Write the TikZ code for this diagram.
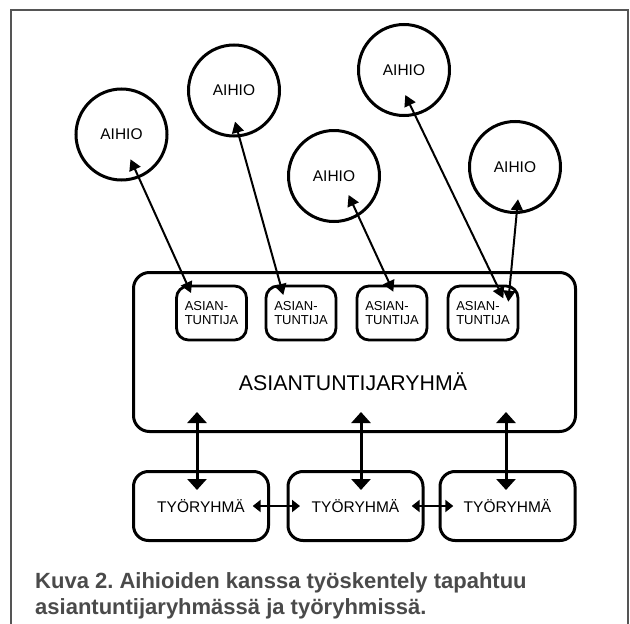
\documentclass[tikz,border=0pt]{standalone}
\usepackage{fontspec}
\setmainfont{Liberation Sans}
\usetikzlibrary{arrows.meta}
\definecolor{framegray}{HTML}{555555}
\definecolor{captiongray}{HTML}{4A4A4A}
\frenchspacing
\begin{document}
\begin{tikzpicture}[x=1pt,y=-1pt,
  aihio/.style={circle,draw,line width=3pt,minimum size=91pt,inner sep=0pt,
    font=\fontsize{15.5}{18}\selectfont},
  expert/.style={draw,line width=2.8pt,rounded corners=12pt,minimum width=70pt,
    minimum height=54pt,inner sep=0pt,align=left,
    font=\fontsize{13}{14.7}\selectfont},
  group/.style={draw,line width=3pt,rounded corners=16pt,minimum width=442pt,
    minimum height=159pt,inner sep=0pt},
  team/.style={draw,line width=3pt,rounded corners=15pt,minimum width=135pt,
    minimum height=69pt,inner sep=0pt,font=\fontsize{15.5}{18}\selectfont},
  captionline/.style={anchor=base west,inner sep=0pt,text=captiongray,
    font=\fontsize{22}{26}\selectfont\bfseries},
  linkarrow/.style={line width=2pt,{Triangle[length=11pt,width=12pt]}-{Triangle[length=11pt,width=12pt]}},
  tiearrow/.style={line width=3pt,{Triangle[length=11pt,width=19pt]}-{Triangle[length=11pt,width=19pt]}},
  siblingarrow/.style={line width=2.4pt,{Triangle[length=8pt,width=12pt]}-{Triangle[length=8pt,width=12pt]}}]
\useasboundingbox (0,0) rectangle (630,624);

% open frame around figure and caption
\draw[framegray,line width=2pt] (11,640) -- (11,10) -- (628,10) -- (628,640);

% source circles
\node[aihio] (c1) at (121.5,134.5) {AIHIO};
\node[aihio] (c2) at (234,90.5) {AIHIO};
\node[aihio] (c3) at (334,176) {AIHIO};
\node[aihio] (c4) at (404,70) {AIHIO};
\node[aihio] (c5) at (515,167) {AIHIO};

% expert group with its members
\node[group] (grp) at (354.5,352) {};
\node[font=\fontsize{21.3}{24}\selectfont] (grplabel) at (353,382) {ASIANTUNTIJARYHMÄ};
\node[expert] (e1) at (211.5,313) {ASIAN-\\TUNTIJA};
\node[expert] (e2) at (301,313) {ASIAN-\\TUNTIJA};
\node[expert] (e3) at (392,313) {ASIAN-\\TUNTIJA};
\node[expert] (e4) at (483,313) {ASIAN-\\TUNTIJA};

% working groups
\node[team] (t1) at (201,506) {TYÖRYHMÄ};
\node[team] (t2) at (355.5,506) {TYÖRYHMÄ};
\node[team] (t3) at (507.5,506) {TYÖRYHMÄ};

% arrow end points inside the shapes
\coordinate (a1) at (130.5,159.3);  \coordinate (b1) at (191,293);
\coordinate (a2) at (235,121.7);    \coordinate (b2) at (283.3,295);
\coordinate (a3) at (348.6,195);    \coordinate (b3) at (393.3,291.7);
\coordinate (a4) at (405.3,95);     \coordinate (b4) at (503.3,298.3);
\coordinate (a5) at (518,199.3);    \coordinate (b5) at (508.3,301.7);

\coordinate (g1) at (197,412);  \coordinate (w1) at (197,490);
\coordinate (g2) at (361,412);  \coordinate (w2) at (361,490);
\coordinate (g3) at (506,412);  \coordinate (w3) at (506,490);

\coordinate (h1a) at (252.7,506); \coordinate (h1b) at (300,506);
\coordinate (h2a) at (411.7,506); \coordinate (h2b) at (453.3,506);

% links between sources and experts
\draw[linkarrow] (a1) -- (b1);
\draw[linkarrow] (a2) -- (b2);
\draw[linkarrow] (a3) -- (b3);
\draw[linkarrow] (a4) -- (b4);
\draw[linkarrow] (a5) -- (b5);

% links between expert group and working groups
\draw[tiearrow] (g1) -- (w1);
\draw[tiearrow] (g2) -- (w2);
\draw[tiearrow] (g3) -- (w3);

% links between neighbouring working groups
\draw[siblingarrow] (h1a) -- (h1b);
\draw[siblingarrow] (h2a) -- (h2b);

% caption
\node[captionline] (caption1) at (35,588) {Kuva 2. Aihioiden kanssa työskentely tapahtuu};
\node[captionline] (caption2) at (35,614) {asiantuntijaryhmässä ja työryhmissä.};
\end{tikzpicture}
\end{document}
